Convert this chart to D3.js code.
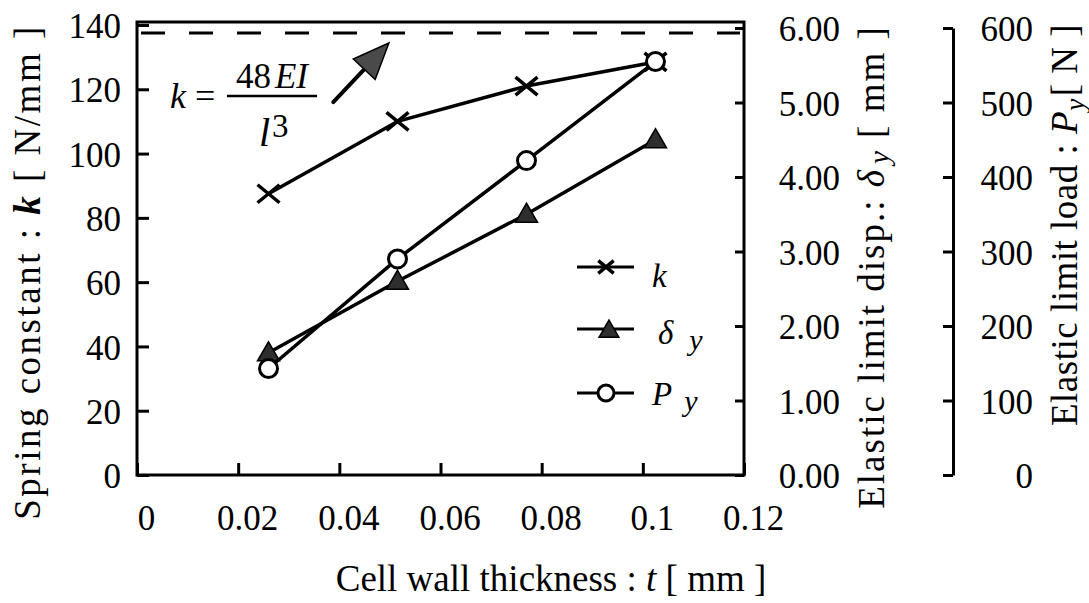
<!DOCTYPE html>
<html>
<head>
<meta charset="utf-8">
<script src="https://cdn.jsdelivr.net/npm/d3@7"></script>
<style>
  html, body { margin: 0; padding: 0; background: #fff; }
  svg { display: block; }
</style>
</head>
<body>
<svg id="chart" width="1089" height="603"></svg>
<script>
// ---- data ----
const thickness = [0.026, 0.0515, 0.077, 0.1025];          // t [mm]
const springK   = [87.5, 110, 121, 128.5];                 // k [N/mm]
const dispDy    = [1.64, 2.60, 3.50, 4.50];                // delta_y [mm]
const loadPy    = [143, 290, 422, 555];                    // P_y [N]
const kTheory   = 137.5;                                   // dashed line k = 48EI/l^3

const xTicks = [0, 0.02, 0.04, 0.06, 0.08, 0.1, 0.12];
const xTickLabels = ["0", "0.02", "0.04", "0.06", "0.08", "0.1", "0.12"];
const kTicks = [0, 20, 40, 60, 80, 100, 120, 140];
const dyTicks = [0, 1, 2, 3, 4, 5, 6];
const dyTickLabels = ["0.00", "1.00", "2.00", "3.00", "4.00", "5.00", "6.00"];
const pyTicks = [0, 100, 200, 300, 400, 500, 600];

const legendNames = ["k", "δ", "P"];
const legendSubs  = ["", "y", "y"];

// annotation arrow in data units (t, k)
const arrowFrom = [0.0388, 116];
const arrowTip  = [0.0498, 134.4];

// ---- layout ----
const FONT = "'Liberation Serif'";
const svg = d3.select("#chart");
const L = 137, R = 744, B = 475, T = 22;
const x  = d3.scaleLinear().domain([0, 0.12]).range([L, R]);
const yK = d3.scaleLinear().domain([0, 140]).range([B, 25]);
const yD = d3.scaleLinear().domain([0, 6]).range([B, 28]);
const yP = d3.scaleLinear().domain([0, 600]).range([B, 28]);

const tickFont = 35;

// frame
svg.append("rect")
  .attr("x", L).attr("y", T).attr("width", R - L).attr("height", B - T)
  .attr("fill", "none").attr("stroke", "#000").attr("stroke-width", 3);

function styleAxis(g) {
  g.attr("font-family", null).attr("font-size", null);
  g.select(".domain").remove();
  g.selectAll(".tick line").attr("stroke", "#000").attr("stroke-width", 3);
  g.selectAll(".tick text").attr("fill", "#000").style("font-family", FONT).style("font-size", tickFont + "px");
}

// left axis (k)
svg.append("g").attr("transform", `translate(${L},0)`)
  .call(d3.axisLeft(yK).tickValues(kTicks).tickSize(-12).tickPadding(16).tickFormat(d3.format("d")))
  .call(styleAxis)
  .call(g => g.selectAll(".tick text").attr("dy", "0.36em"));

// bottom axis (t)
svg.append("g").attr("transform", `translate(0,${B})`)
  .call(d3.axisBottom(x).tickValues(xTicks).tickSize(-12).tickPadding(31)
        .tickFormat((d, i) => xTickLabels[i]))
  .call(styleAxis)
  .call(g => g.selectAll(".tick text").attr("dx", 9).attr("dy", "0.68em"));

// right axis 1 (delta_y) on frame
svg.append("g").attr("transform", `translate(${R},0)`)
  .call(d3.axisRight(yD).tickValues(dyTicks).tickSize(-9).tickFormat((d, i) => dyTickLabels[i]))
  .call(styleAxis)
  .call(g => g.selectAll(".tick text").attr("text-anchor", "end").attr("x", 96).attr("dy", "0.36em"));

// right axis 2 (P_y), separate spine
const gP = svg.append("g").attr("transform", `translate(953,0)`)
  .call(d3.axisLeft(yP).tickValues(pyTicks).tickSize(10).tickSizeOuter(0).tickFormat(d3.format("d")));
gP.attr("font-family", null).attr("font-size", null);
gP.select(".domain").attr("stroke", "#000").attr("stroke-width", 3);
gP.selectAll(".tick line").attr("stroke", "#000").attr("stroke-width", 3);
gP.selectAll(".tick text").attr("text-anchor", "end")
  .attr("x", 80).attr("dy", "0.36em").attr("fill", "#000")
  .style("font-family", FONT).style("font-size", tickFont + "px");

// dashed theoretical line
svg.append("line")
  .attr("x1", x(0) + 4).attr("x2", x(0.12) - 4)
  .attr("y1", yK(kTheory)).attr("y2", yK(kTheory))
  .attr("stroke", "#000").attr("stroke-width", 3).attr("stroke-dasharray", "24,24");

// arrow annotation
{
  const x0 = x(arrowFrom[0]), y0 = yK(arrowFrom[1]);
  const x1 = x(arrowTip[0]),  y1 = yK(arrowTip[1]);
  const ang = Math.atan2(y1 - y0, x1 - x0);
  const headLen = 36, headHalf = 15;
  const bx = x1 - headLen * Math.cos(ang), by = y1 - headLen * Math.sin(ang);
  const px = -Math.sin(ang), py = Math.cos(ang);
  svg.append("line").attr("x1", x0).attr("y1", y0).attr("x2", bx + 3 * Math.cos(ang)).attr("y2", by + 3 * Math.sin(ang))
    .attr("stroke", "#000").attr("stroke-width", 4).attr("stroke-linecap", "round");
  svg.append("path")
    .attr("d", `M${x1},${y1}L${bx + px * headHalf},${by + py * headHalf}L${bx - px * headHalf},${by - py * headHalf}Z`)
    .attr("fill", "#4a4a4a").attr("stroke", "#000").attr("stroke-width", 1.5);
}

function txt(sel) { return sel.append("text").style("font-family", FONT).attr("fill", "#000"); }

// formula k = 48EI / l^3
{
  const f = svg.append("g");
  const t1 = txt(f).attr("x", 170).attr("y", 108).style("font-size", "36px");
  t1.append("tspan").attr("font-style", "italic").text("k");
  t1.append("tspan").attr("dx", 9).text("=");
  const num = txt(f).attr("x", 272).attr("y", 88).attr("text-anchor", "middle").style("font-size", "35px");
  num.append("tspan").text("48");
  num.append("tspan").attr("dx", 4).attr("font-style", "italic").text("EI");
  f.append("line").attr("x1", 227).attr("x2", 317).attr("y1", 96).attr("y2", 96)
    .attr("stroke", "#000").attr("stroke-width", 2.5);
  txt(f).attr("x", 259).attr("y", 146).style("font-size", "40px").attr("font-style", "italic").text("l");
  txt(f).attr("x", 272).attr("y", 137).style("font-size", "33px").text("3");
}

// series
const lineW = 3.5;
function series(vals, yScale) {
  const pts = thickness.map((t, i) => [x(t), yScale(vals[i])]);
  svg.append("path").attr("d", d3.line()(pts))
    .attr("fill", "none").attr("stroke", "#000").attr("stroke-width", lineW).attr("stroke-linejoin", "round");
  return pts;
}
const triPath = s => `M0,${-11 * s}L${11 * s},${8 * s}L${-11 * s},${8 * s}Z`;
const xPath = s => `M${-11 * s},${-9 * s}L${11 * s},${9 * s}M${-11 * s},${9 * s}L${11 * s},${-9 * s}`;

function drawX(g, px, py, s) {
  g.append("path").attr("transform", `translate(${px},${py})`).attr("d", xPath(s))
    .attr("stroke", "#000").attr("stroke-width", 3.5).attr("fill", "none");
}
function drawTri(g, px, py, s) {
  g.append("path").attr("transform", `translate(${px},${py})`).attr("d", triPath(s))
    .attr("fill", "#2e2e2e").attr("stroke", "#000").attr("stroke-width", 1.5);
}
function drawCirc(g, px, py, r) {
  g.append("circle").attr("cx", px).attr("cy", py).attr("r", r)
    .attr("fill", "#fff").attr("stroke", "#000").attr("stroke-width", 3);
}

const kPts = series(springK, yK);
kPts.forEach(p => drawX(svg, p[0], p[1], 1));
const dPts = series(dispDy, yD);
dPts.forEach(p => drawTri(svg, p[0], p[1], 1));
const pPts = series(loadPy, yP);
pPts.forEach(p => drawCirc(svg, p[0], p[1], 9));

// legend
const legY = [267, 329, 393];
const lg = svg.append("g");
legendNames.forEach((name, i) => {
  const y = legY[i];
  lg.append("line").attr("x1", 577).attr("x2", 634).attr("y1", y).attr("y2", y)
    .attr("stroke", "#000").attr("stroke-width", 3);
  if (i === 0) drawX(lg, 606, y, 0.7);
  if (i === 1) drawTri(lg, 609, y + 1, 0.9);
  if (i === 2) drawCirc(lg, 606, y, 8);
  const t = txt(lg).attr("x", i === 1 ? 658 : 652).attr("y", i === 0 ? y + 20 : (i === 1 ? y + 15 : y + 12))
    .style("font-size", "33px").attr("font-style", "italic");
  t.append("tspan").text(name);
  if (legendSubs[i]) t.append("tspan").attr("dx", i === 1 ? 16 : 12).style("font-size", "30px").attr("dy", 6).text(legendSubs[i]);
});

// axis titles
const titleFont = "37px";
{
  const t = txt(svg).attr("x", 551).attr("y", 591).attr("text-anchor", "middle").style("font-size", titleFont);
  t.append("tspan").text("Cell wall thickness : ");
  t.append("tspan").attr("font-style", "italic").text("t");
  t.append("tspan").text(" [ mm ]");
}
{
  const t = txt(svg).attr("transform", "translate(40,272) rotate(-90)")
    .attr("text-anchor", "middle").style("font-size", titleFont).attr("letter-spacing", 2.5);
  t.append("tspan").text("Spring constant : ");
  t.append("tspan").attr("font-style", "italic").attr("font-weight", "bold").text("k");
  t.append("tspan").text(" [ N/mm ]");
}
{
  const t = txt(svg).attr("transform", "translate(884,267) rotate(-90)")
    .attr("text-anchor", "middle").style("font-size", titleFont).attr("letter-spacing", 2);
  t.append("tspan").text("Elastic limit disp.: ");
  t.append("tspan").attr("font-style", "italic").text("δ");
  t.append("tspan").attr("font-style", "italic").style("font-size", "29px").attr("dx", 4).attr("dy", 5).text("y");
  t.append("tspan").attr("dy", -5).text(" [ mm ]");
}
{
  const t = txt(svg).attr("transform", "translate(1077,225) rotate(-90)")
    .attr("text-anchor", "middle").style("font-size", titleFont).attr("letter-spacing", 0.5);
  t.append("tspan").text("Elastic limit load : ");
  t.append("tspan").attr("font-style", "italic").text("P");
  t.append("tspan").attr("font-style", "italic").style("font-size", "27px").attr("dy", 7).text("y");
  t.append("tspan").attr("dy", -7).attr("dx", 2).text("[ N ]");
}
</script>
</body>
</html>
